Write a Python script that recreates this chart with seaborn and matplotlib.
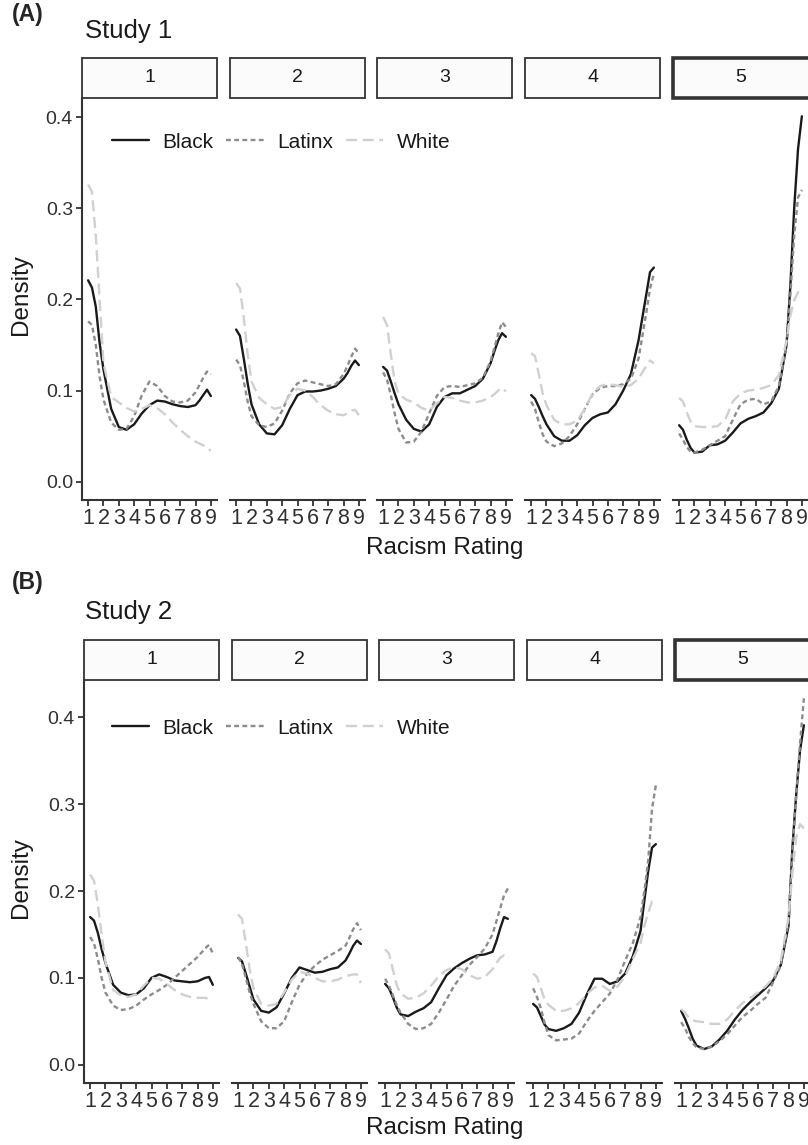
import numpy as np
import pandas as pd
import matplotlib
matplotlib.use('Agg')
import matplotlib.pyplot as plt
from matplotlib.patches import Rectangle
from matplotlib.lines import Line2D
import seaborn as sns

sns.set_style('ticks')
plt.rcParams['font.family'] = ['Liberation Sans', 'DejaVu Sans']
plt.rcParams['lines.scale_dashes'] = False

# rating grid the curves were read at
rating = [1, 1.25, 1.5, 1.75, 2, 2.5, 3, 3.5, 4, 4.5, 5, 5.5, 6, 6.5, 7, 7.5, 8, 8.25, 8.5, 8.75, 9]
panels = [1, 2, 3, 4, 5]
races = ['Black', 'Latinx', 'White']

# Study 1 - density per panel (1..5)
s1_black = [
    [0.221, 0.213, 0.192, 0.152, 0.123, 0.080, 0.060, 0.057, 0.063, 0.075, 0.084, 0.089, 0.088, 0.085, 0.083, 0.082, 0.084, 0.089, 0.095, 0.101, 0.094],
    [0.167, 0.160, 0.135, 0.108, 0.085, 0.063, 0.053, 0.052, 0.062, 0.080, 0.095, 0.099, 0.099, 0.100, 0.102, 0.105, 0.113, 0.119, 0.127, 0.133, 0.128],
    [0.126, 0.122, 0.110, 0.097, 0.085, 0.068, 0.058, 0.055, 0.063, 0.082, 0.093, 0.097, 0.097, 0.101, 0.105, 0.113, 0.130, 0.143, 0.155, 0.163, 0.159],
    [0.095, 0.091, 0.082, 0.072, 0.063, 0.050, 0.045, 0.045, 0.051, 0.062, 0.070, 0.074, 0.076, 0.085, 0.100, 0.118, 0.155, 0.180, 0.205, 0.230, 0.235],
    [0.062, 0.057, 0.046, 0.037, 0.032, 0.033, 0.040, 0.041, 0.045, 0.054, 0.064, 0.069, 0.072, 0.076, 0.086, 0.102, 0.150, 0.215, 0.300, 0.365, 0.401],
]
s1_latinx = [
    [0.176, 0.172, 0.150, 0.115, 0.090, 0.065, 0.057, 0.058, 0.072, 0.095, 0.110, 0.105, 0.094, 0.088, 0.087, 0.089, 0.098, 0.106, 0.114, 0.121, 0.118],
    [0.134, 0.128, 0.110, 0.088, 0.072, 0.062, 0.060, 0.064, 0.078, 0.097, 0.108, 0.111, 0.109, 0.107, 0.105, 0.107, 0.118, 0.127, 0.137, 0.146, 0.141],
    [0.120, 0.112, 0.095, 0.075, 0.058, 0.043, 0.044, 0.055, 0.075, 0.094, 0.104, 0.105, 0.104, 0.106, 0.108, 0.114, 0.132, 0.147, 0.162, 0.175, 0.170],
    [0.088, 0.080, 0.065, 0.052, 0.044, 0.039, 0.042, 0.050, 0.063, 0.080, 0.096, 0.103, 0.105, 0.105, 0.107, 0.113, 0.135, 0.160, 0.185, 0.212, 0.228],
    [0.053, 0.046, 0.038, 0.033, 0.032, 0.035, 0.040, 0.045, 0.050, 0.068, 0.085, 0.090, 0.091, 0.085, 0.088, 0.105, 0.150, 0.205, 0.270, 0.312, 0.320],
]
s1_white = [
    [0.326, 0.318, 0.270, 0.200, 0.130, 0.093, 0.087, 0.081, 0.077, 0.080, 0.084, 0.081, 0.074, 0.065, 0.057, 0.050, 0.044, 0.042, 0.040, 0.037, 0.034],
    [0.218, 0.212, 0.180, 0.140, 0.110, 0.092, 0.085, 0.080, 0.082, 0.095, 0.102, 0.100, 0.093, 0.084, 0.078, 0.074, 0.073, 0.075, 0.078, 0.079, 0.073],
    [0.181, 0.172, 0.140, 0.110, 0.097, 0.090, 0.087, 0.081, 0.078, 0.086, 0.093, 0.092, 0.089, 0.087, 0.087, 0.089, 0.093, 0.096, 0.100, 0.103, 0.099],
    [0.141, 0.138, 0.118, 0.097, 0.084, 0.068, 0.063, 0.063, 0.067, 0.080, 0.097, 0.105, 0.107, 0.106, 0.104, 0.106, 0.113, 0.120, 0.127, 0.133, 0.130],
    [0.092, 0.088, 0.076, 0.066, 0.061, 0.060, 0.060, 0.061, 0.068, 0.088, 0.097, 0.100, 0.101, 0.103, 0.106, 0.117, 0.155, 0.182, 0.199, 0.208, 0.203],
]

# Study 2
s2_black = [
    [0.170, 0.166, 0.152, 0.133, 0.117, 0.092, 0.083, 0.080, 0.081, 0.088, 0.100, 0.104, 0.101, 0.097, 0.096, 0.095, 0.096, 0.098, 0.100, 0.101, 0.092],
    [0.123, 0.119, 0.105, 0.090, 0.075, 0.062, 0.060, 0.066, 0.082, 0.100, 0.112, 0.109, 0.106, 0.107, 0.110, 0.112, 0.120, 0.128, 0.137, 0.143, 0.139],
    [0.093, 0.088, 0.078, 0.066, 0.058, 0.056, 0.061, 0.065, 0.072, 0.088, 0.103, 0.111, 0.117, 0.122, 0.126, 0.127, 0.130, 0.142, 0.157, 0.170, 0.168],
    [0.070, 0.066, 0.056, 0.046, 0.041, 0.039, 0.042, 0.047, 0.060, 0.081, 0.099, 0.099, 0.093, 0.096, 0.105, 0.125, 0.154, 0.189, 0.223, 0.250, 0.254],
    [0.062, 0.053, 0.042, 0.030, 0.022, 0.018, 0.021, 0.029, 0.039, 0.052, 0.063, 0.072, 0.080, 0.088, 0.097, 0.115, 0.160, 0.249, 0.311, 0.362, 0.391],
]
s2_latinx = [
    [0.147, 0.140, 0.122, 0.100, 0.083, 0.068, 0.063, 0.064, 0.068, 0.075, 0.081, 0.086, 0.092, 0.100, 0.108, 0.116, 0.124, 0.129, 0.134, 0.138, 0.128],
    [0.124, 0.116, 0.100, 0.083, 0.070, 0.050, 0.042, 0.042, 0.050, 0.072, 0.092, 0.105, 0.114, 0.121, 0.126, 0.131, 0.137, 0.146, 0.156, 0.163, 0.155],
    [0.099, 0.091, 0.080, 0.069, 0.060, 0.047, 0.041, 0.042, 0.047, 0.060, 0.075, 0.091, 0.103, 0.115, 0.124, 0.134, 0.150, 0.165, 0.180, 0.195, 0.203],
    [0.088, 0.078, 0.065, 0.048, 0.034, 0.028, 0.029, 0.030, 0.036, 0.050, 0.062, 0.072, 0.082, 0.098, 0.120, 0.140, 0.170, 0.200, 0.235, 0.295, 0.322],
    [0.049, 0.042, 0.032, 0.025, 0.020, 0.018, 0.021, 0.027, 0.035, 0.045, 0.055, 0.062, 0.070, 0.077, 0.095, 0.115, 0.165, 0.245, 0.310, 0.370, 0.422],
]
s2_white = [
    [0.219, 0.212, 0.185, 0.150, 0.118, 0.086, 0.080, 0.078, 0.081, 0.091, 0.100, 0.099, 0.093, 0.086, 0.081, 0.078, 0.077, 0.077, 0.077, 0.076, 0.074],
    [0.173, 0.168, 0.140, 0.110, 0.088, 0.070, 0.068, 0.070, 0.083, 0.098, 0.107, 0.105, 0.100, 0.096, 0.096, 0.098, 0.102, 0.103, 0.104, 0.104, 0.094],
    [0.133, 0.128, 0.110, 0.092, 0.082, 0.076, 0.077, 0.082, 0.091, 0.102, 0.109, 0.112, 0.110, 0.103, 0.099, 0.101, 0.110, 0.117, 0.123, 0.126, 0.122],
    [0.105, 0.101, 0.088, 0.075, 0.069, 0.062, 0.062, 0.065, 0.071, 0.081, 0.089, 0.091, 0.085, 0.090, 0.102, 0.122, 0.140, 0.160, 0.175, 0.188, 0.187],
    [0.064, 0.060, 0.054, 0.051, 0.050, 0.049, 0.047, 0.047, 0.052, 0.062, 0.071, 0.077, 0.083, 0.090, 0.100, 0.120, 0.170, 0.220, 0.262, 0.277, 0.272],
]

palette = {'Black': '#1a1a1a', 'Latinx': '#8c8c8c', 'White': '#d0d0d0'}
dashes = {'Black': '', 'Latinx': (3.5, 2.4), 'White': (8.0, 4.0)}
LW = 1.7
ink = '#333333'

W, H = 808, 1145
fig = plt.figure(figsize=(W / 100, H / 100), dpi=100)


def box(left, top, w, h):
    # pixel box -> figure fraction
    return [left / W, 1 - (top + h) / H, w / W, h / H]


def long_df(black, latinx, white):
    frames = []
    for race, curves in zip(races, [black, latinx, white]):
        for p, vals in zip(panels, curves):
            frames.append(pd.DataFrame({'panel': p, 'race': race, 'rating': rating, 'density': vals}))
    return pd.concat(frames, ignore_index=True)


def draw_study(df, tag, title, tag_y, title_y, strip_top, panel_top, panel_h, lefts, legend_y, xlab_y):
    ymax = df['density'].max()
    pw = 135
    for i, p in enumerate(panels):
        ax = fig.add_axes(box(lefts[i], panel_top, pw, panel_h))
        sns.lineplot(data=df[df['panel'] == p], x='rating', y='density', hue='race', style='race',
                     hue_order=races, style_order=races, palette=palette, dashes=dashes,
                     lw=LW, ax=ax, legend=False, estimator=None)
        ax.set_xlim(0.6, 9.4)
        ax.set_ylim(-0.05 * ymax, 1.05 * ymax)
        ax.set_xticks(range(1, 10))
        ax.set_xlabel('')
        ax.set_ylabel('')
        ax.set_facecolor('none')
        for s in ['top', 'right']:
            ax.spines[s].set_visible(False)
        for s in ['left', 'bottom']:
            ax.spines[s].set_color(ink)
            ax.spines[s].set_linewidth(1.5)
        ax.tick_params(axis='both', direction='out', length=4.5, width=1.3, color=ink,
                       labelsize=14, labelcolor='#303030', pad=2)
        ax.tick_params(axis='x', labelsize=15.5, pad=1.5)
        if i == 0:
            ax.set_yticks([0, 0.1, 0.2, 0.3, 0.4])
            ax.set_yticklabels(['0.0', '0.1', '0.2', '0.3', '0.4'])
        else:
            ax.spines['left'].set_visible(False)
            ax.set_yticks([])
        # facet strip
        thick = 2.6 if p == 5 else 1.3
        sw = pw + 10 if p == 5 else pw
        fig.add_artist(Rectangle((lefts[i] / W, 1 - (strip_top + 40) / H), sw / W, 40 / H,
                                 transform=fig.transFigure, facecolor='#fbfbfb',
                                 edgecolor=ink, lw=thick, clip_on=False))
        fig.text((lefts[i] + pw / 2) / W, 1 - (strip_top + 20) / H, str(p),
                 ha='center', va='center', fontsize=14, color='#1a1a1a')

    handles = []
    for r in races:
        if r == 'Black':
            handles.append(Line2D([], [], color=palette[r], lw=LW, linestyle='-'))
        else:
            handles.append(Line2D([], [], color=palette[r], lw=LW, dashes=dashes[r]))
    fig.legend(handles, races, loc='center', bbox_to_anchor=(281 / W, 1 - legend_y / H),
               ncol=3, frameon=False, fontsize=15, handlelength=1.8,
               handletextpad=0.65, columnspacing=0.6, labelcolor='#1a1a1a')

    fig.text(12 / W, 1 - tag_y / H, tag, fontsize=16.5, fontweight='bold', va='center', ha='left')
    fig.text(85 / W, 1 - title_y / H, title, fontsize=18.5, va='center', ha='left', color='#1a1a1a')
    fig.text(21 / W, 1 - (panel_top + panel_h / 2 - 4) / H, 'Density', rotation=90,
             fontsize=17.5, va='center', ha='center', color='#1a1a1a')
    fig.text(445 / W, 1 - xlab_y / H, 'Racism Rating', fontsize=17.5, va='center',
             ha='center', color='#1a1a1a')


df1 = long_df(s1_black, s1_latinx, s1_white)
df2 = long_df(s2_black, s2_latinx, s2_white)

draw_study(df1, '(A)', 'Study 1', tag_y=15, title_y=31, strip_top=58, panel_top=98,
           panel_h=402, lefts=[82, 230, 377, 525, 673], legend_y=142, xlab_y=548)
draw_study(df2, '(B)', 'Study 2', tag_y=582, title_y=612, strip_top=640, panel_top=680,
           panel_h=403, lefts=[84, 232, 379, 527, 675], legend_y=728, xlab_y=1128)

fig.savefig('out.png', dpi=100, facecolor='white')
